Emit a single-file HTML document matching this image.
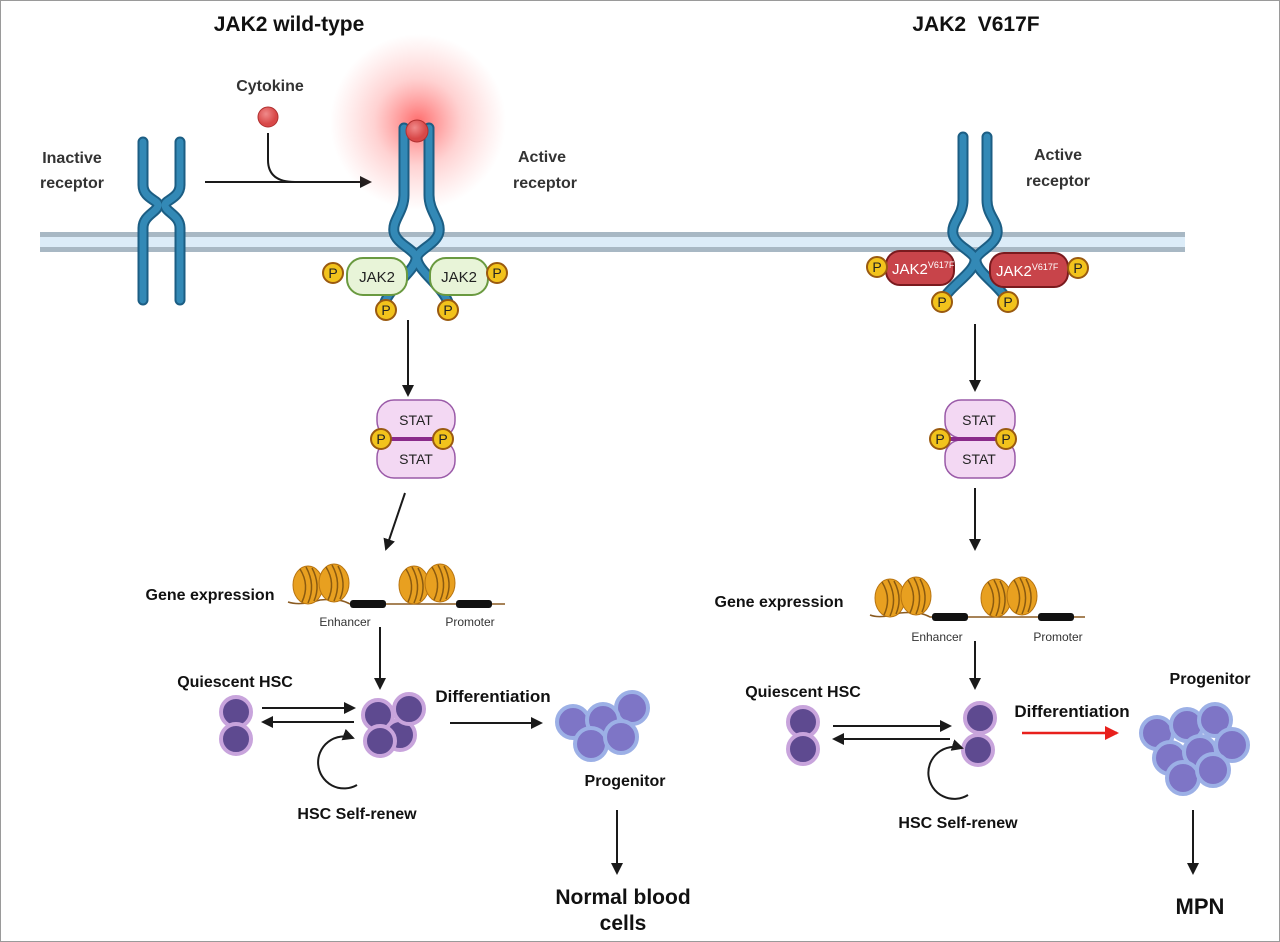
<!DOCTYPE html>
<html><head><meta charset="utf-8"><style>
html,body{margin:0;padding:0;background:#fff;}
svg{display:block;font-family:"Liberation Sans",Arial,sans-serif;}
</style></head><body>
<svg width="1280" height="942" viewBox="0 0 1280 942" xmlns="http://www.w3.org/2000/svg">
<defs>
<radialGradient id="glow"><stop offset="0" stop-color="#ff3b3b" stop-opacity="0.75"/><stop offset="0.5" stop-color="#ff6a6a" stop-opacity="0.3"/><stop offset="1" stop-color="#ff8080" stop-opacity="0"/></radialGradient>
<radialGradient id="ball" cx="0.4" cy="0.35"><stop offset="0" stop-color="#f08a8a"/><stop offset="1" stop-color="#d84848"/></radialGradient>
<marker id="ah" markerWidth="12" markerHeight="12" refX="10" refY="6" orient="auto" markerUnits="userSpaceOnUse"><path d="M0,0 L12,6 L0,12 z" fill="#1a1a1a"/></marker>
<marker id="ahr" markerWidth="14" markerHeight="14" refX="12" refY="7" orient="auto" markerUnits="userSpaceOnUse"><path d="M0,0 L14,7 L0,14 z" fill="#e8201c"/></marker>
<g id="nuc"><ellipse cx="0" cy="0" rx="15" ry="19" fill="#e8a020" stroke="#b87410" stroke-width="1"/><path d="M-8,-16 Q2,0 -6,17 M-2,-18 Q8,0 0,18 M4,-17 Q13,0 6,16" stroke="#8a5a10" stroke-width="1.5" fill="none"/></g>
<g id="P"><circle r="10" fill="#f2c31c" stroke="#9a5a10" stroke-width="2"/><text y="5" text-anchor="middle" font-size="14" fill="#222">P</text></g>
<g id="hsc"><circle r="15" fill="#5e4a90" stroke="#c8a4dc" stroke-width="4"/></g>
<g id="prog"><circle r="16" fill="#7e75c6" stroke="#9cb0e6" stroke-width="4"/></g>
</defs>
<rect x="0.5" y="0.5" width="1279" height="941" fill="#fff" stroke="#9a9a9a"/>

<text x="289" y="31" text-anchor="middle" font-size="21" font-weight="bold" fill="#111">JAK2 wild-type</text>
<text x="976" y="31" text-anchor="middle" font-size="21" font-weight="bold" fill="#111" xml:space="preserve">JAK2  V617F</text>

<rect x="40" y="232" width="1145" height="20" fill="#dcecf8"/>
<rect x="40" y="232" width="1145" height="5" fill="#a8b8c4"/>
<rect x="40" y="247" width="1145" height="5" fill="#a8b8c4"/>

<g fill="none" stroke-linecap="round">
<g stroke="#1c5e84" stroke-width="11">
<path d="M143,142 L143,185 C143,198 158,200 158,205 C158,212 143,215 143,228 L143,300"/>
<path d="M180,142 L180,185 C180,198 165,200 165,205 C165,212 180,215 180,228 L180,300"/>
</g>
<g stroke="#3389b6" stroke-width="7">
<path d="M143,142 L143,185 C143,198 158,200 158,205 C158,212 143,215 143,228 L143,300"/>
<path d="M180,142 L180,185 C180,198 165,200 165,205 C165,212 180,215 180,228 L180,300"/>
</g>
</g>
<text x="72" y="163" text-anchor="middle" font-size="16" font-weight="bold" fill="#333">Inactive</text>
<text x="72" y="188" text-anchor="middle" font-size="16" font-weight="bold" fill="#333">receptor</text>

<text x="270" y="91" text-anchor="middle" font-size="16" font-weight="bold" fill="#333">Cytokine</text>
<circle cx="268" cy="117" r="10" fill="url(#ball)" stroke="#b03030"/>
<line x1="205" y1="182" x2="370" y2="182" stroke="#1a1a1a" stroke-width="2" marker-end="url(#ah)"/>
<path d="M268,133 L268,160 Q268,182 295,182" fill="none" stroke="#1a1a1a" stroke-width="2"/>

<circle cx="418" cy="122" r="88" fill="url(#glow)"/>
<g fill="none" stroke-linecap="round">
<g stroke="#1c5e84" stroke-width="11">
<path d="M404,128 L404,195 C404,212 392,220 394,232 C396,244 416,250 416,258 C416,270 392,285 385,302"/>
<path d="M429,128 L429,195 C429,212 441,220 439,232 C437,244 417,250 417,258 C417,270 441,285 448,302"/>
</g>
<g stroke="#3389b6" stroke-width="7">
<path d="M404,128 L404,195 C404,212 392,220 394,232 C396,244 416,250 416,258 C416,270 392,285 385,302"/>
<path d="M429,128 L429,195 C429,212 441,220 439,232 C437,244 417,250 417,258 C417,270 441,285 448,302"/>
</g>
</g>
<circle cx="417" cy="131" r="11" fill="url(#ball)" stroke="#b03030"/>
<text x="542" y="162" text-anchor="middle" font-size="16" font-weight="bold" fill="#333">Active</text>
<text x="545" y="188" text-anchor="middle" font-size="16" font-weight="bold" fill="#333">receptor</text>
<rect x="347" y="258" width="60" height="37" rx="16" fill="#e8f4d8" stroke="#6a9a40" stroke-width="2"/>
<text x="377" y="282" text-anchor="middle" font-size="15" fill="#222">JAK2</text>
<rect x="430" y="258" width="58" height="37" rx="16" fill="#e8f4d8" stroke="#6a9a40" stroke-width="2"/>
<text x="459" y="282" text-anchor="middle" font-size="15" fill="#222">JAK2</text>
<use href="#P" x="333" y="273"/><use href="#P" x="497" y="273"/>
<use href="#P" x="386" y="310"/><use href="#P" x="448" y="310"/>

<line x1="408" y1="320" x2="408" y2="395" stroke="#1a1a1a" stroke-width="2" marker-end="url(#ah)"/>

<rect x="377" y="400" width="78" height="38" rx="17" fill="#f3d8f3" stroke="#9a5aa8" stroke-width="1.5"/>
<rect x="377" y="440" width="78" height="38" rx="17" fill="#f3d8f3" stroke="#9a5aa8" stroke-width="1.5"/>
<line x1="385" y1="439" x2="445" y2="439" stroke="#8a2a8a" stroke-width="4"/>
<text x="416" y="425" text-anchor="middle" font-size="14" fill="#222">STAT</text>
<text x="416" y="464" text-anchor="middle" font-size="14" fill="#222">STAT</text>
<use href="#P" x="381" y="439"/><use href="#P" x="443" y="439"/>

<line x1="405" y1="493" x2="386" y2="549" stroke="#1a1a1a" stroke-width="2" marker-end="url(#ah)"/>

<text x="210" y="600" text-anchor="middle" font-size="16" font-weight="bold" fill="#111">Gene expression</text>
<path d="M288,602 Q300,606 320,600 Q340,598 350,604 L505,604" fill="none" stroke="#8a5a20" stroke-width="1.5"/>
<use href="#nuc" x="308" y="585"/><use href="#nuc" x="334" y="583"/>
<use href="#nuc" x="414" y="585"/><use href="#nuc" x="440" y="583"/>
<rect x="350" y="600" width="36" height="8" rx="3" fill="#111"/>
<rect x="456" y="600" width="36" height="8" rx="3" fill="#111"/>
<text x="345" y="626" text-anchor="middle" font-size="12" fill="#333">Enhancer</text>
<text x="470" y="626" text-anchor="middle" font-size="12" fill="#333">Promoter</text>
<line x1="380" y1="627" x2="380" y2="688" stroke="#1a1a1a" stroke-width="2" marker-end="url(#ah)"/>

<text x="235" y="687" text-anchor="middle" font-size="16" font-weight="bold" fill="#111">Quiescent HSC</text>
<use href="#hsc" x="236" y="712"/><use href="#hsc" x="236" y="739"/>
<line x1="262" y1="708" x2="354" y2="708" stroke="#1a1a1a" stroke-width="2" marker-end="url(#ah)"/>
<line x1="354" y1="722" x2="263" y2="722" stroke="#1a1a1a" stroke-width="2" marker-end="url(#ah)"/>
<use href="#hsc" x="378" y="715"/><use href="#hsc" x="400" y="735"/><use href="#hsc" x="409" y="709"/><use href="#hsc" x="380" y="741"/>
<path d="M357,785 A26,26 0 1 1 353,738" fill="none" stroke="#1a1a1a" stroke-width="2" marker-end="url(#ah)"/>
<text x="357" y="819" text-anchor="middle" font-size="16" font-weight="bold" fill="#111">HSC Self-renew</text>
<text x="493" y="702" text-anchor="middle" font-size="17" font-weight="bold" fill="#111">Differentiation</text>
<line x1="450" y1="723" x2="541" y2="723" stroke="#1a1a1a" stroke-width="2" marker-end="url(#ah)"/>
<use href="#prog" x="573" y="722"/><use href="#prog" x="632" y="708"/><use href="#prog" x="603" y="720"/><use href="#prog" x="591" y="744"/><use href="#prog" x="621" y="737"/>
<text x="625" y="786" text-anchor="middle" font-size="16" font-weight="bold" fill="#111">Progenitor</text>
<line x1="617" y1="810" x2="617" y2="873" stroke="#1a1a1a" stroke-width="2" marker-end="url(#ah)"/>
<text x="623" y="904" text-anchor="middle" font-size="21" font-weight="bold" fill="#111">Normal blood</text>
<text x="623" y="930" text-anchor="middle" font-size="21" font-weight="bold" fill="#111">cells</text>

<g fill="none" stroke-linecap="round">
<g stroke="#1c5e84" stroke-width="11">
<path d="M963,137 L963,200 C963,216 951,222 953,234 C955,246 975,252 975,260 C975,272 950,286 943,300"/>
<path d="M987,137 L987,200 C987,216 999,222 997,234 C995,246 976,252 976,260 C976,272 1000,286 1007,300"/>
</g>
<g stroke="#3389b6" stroke-width="7">
<path d="M963,137 L963,200 C963,216 951,222 953,234 C955,246 975,252 975,260 C975,272 950,286 943,300"/>
<path d="M987,137 L987,200 C987,216 999,222 997,234 C995,246 976,252 976,260 C976,272 1000,286 1007,300"/>
</g>
</g>
<text x="1058" y="160" text-anchor="middle" font-size="16" font-weight="bold" fill="#333">Active</text>
<text x="1058" y="186" text-anchor="middle" font-size="16" font-weight="bold" fill="#333">receptor</text>
<rect x="886" y="251" width="68" height="34" rx="14" fill="#c8444a" stroke="#7a1a1e" stroke-width="2"/>
<text x="892" y="274" font-size="15" fill="#fff">JAK2<tspan font-size="9" dy="-6">V617F</tspan></text>
<rect x="990" y="253" width="78" height="34" rx="14" fill="#c8444a" stroke="#7a1a1e" stroke-width="2"/>
<text x="996" y="276" font-size="15" fill="#fff">JAK2<tspan font-size="9" dy="-6">V617F</tspan></text>
<use href="#P" x="877" y="267"/><use href="#P" x="1078" y="268"/>
<use href="#P" x="942" y="302"/><use href="#P" x="1008" y="302"/>
<line x1="975" y1="324" x2="975" y2="390" stroke="#1a1a1a" stroke-width="2" marker-end="url(#ah)"/>

<rect x="945" y="400" width="70" height="38" rx="16" fill="#f3d8f3" stroke="#9a5aa8" stroke-width="1.5"/>
<rect x="945" y="440" width="70" height="38" rx="16" fill="#f3d8f3" stroke="#9a5aa8" stroke-width="1.5"/>
<line x1="945" y1="439" x2="1005" y2="439" stroke="#8a2a8a" stroke-width="4"/>
<text x="979" y="425" text-anchor="middle" font-size="14" fill="#222">STAT</text>
<text x="979" y="464" text-anchor="middle" font-size="14" fill="#222">STAT</text>
<use href="#P" x="940" y="439"/><use href="#P" x="1006" y="439"/>
<line x1="975" y1="488" x2="975" y2="549" stroke="#1a1a1a" stroke-width="2" marker-end="url(#ah)"/>

<text x="779" y="607" text-anchor="middle" font-size="16" font-weight="bold" fill="#111">Gene expression</text>
<path d="M870,615 Q880,619 900,613 Q920,611 930,617 L1085,617" fill="none" stroke="#8a5a20" stroke-width="1.5"/>
<use href="#nuc" x="890" y="598"/><use href="#nuc" x="916" y="596"/>
<use href="#nuc" x="996" y="598"/><use href="#nuc" x="1022" y="596"/>
<rect x="932" y="613" width="36" height="8" rx="3" fill="#111"/>
<rect x="1038" y="613" width="36" height="8" rx="3" fill="#111"/>
<text x="937" y="641" text-anchor="middle" font-size="12" fill="#333">Enhancer</text>
<text x="1058" y="641" text-anchor="middle" font-size="12" fill="#333">Promoter</text>
<line x1="975" y1="641" x2="975" y2="688" stroke="#1a1a1a" stroke-width="2" marker-end="url(#ah)"/>

<text x="803" y="697" text-anchor="middle" font-size="16" font-weight="bold" fill="#111">Quiescent HSC</text>
<use href="#hsc" x="803" y="722"/><use href="#hsc" x="803" y="749"/>
<line x1="833" y1="726" x2="950" y2="726" stroke="#1a1a1a" stroke-width="2" marker-end="url(#ah)"/>
<line x1="950" y1="739" x2="834" y2="739" stroke="#1a1a1a" stroke-width="2" marker-end="url(#ah)"/>
<use href="#hsc" x="980" y="718"/><use href="#hsc" x="978" y="750"/>
<path d="M968,795 A26,26 0 1 1 962,748" fill="none" stroke="#1a1a1a" stroke-width="2" marker-end="url(#ah)"/>
<text x="958" y="828" text-anchor="middle" font-size="16" font-weight="bold" fill="#111">HSC Self-renew</text>
<text x="1072" y="717" text-anchor="middle" font-size="17" font-weight="bold" fill="#111">Differentiation</text>
<line x1="1022" y1="733" x2="1117" y2="733" stroke="#e8201c" stroke-width="2.5" marker-end="url(#ahr)"/>
<text x="1210" y="684" text-anchor="middle" font-size="16" font-weight="bold" fill="#111">Progenitor</text>
<use href="#prog" x="1157" y="733"/><use href="#prog" x="1187" y="725"/><use href="#prog" x="1215" y="720"/><use href="#prog" x="1232" y="745"/>
<use href="#prog" x="1170" y="758"/><use href="#prog" x="1200" y="752"/><use href="#prog" x="1183" y="778"/><use href="#prog" x="1213" y="770"/>
<line x1="1193" y1="810" x2="1193" y2="873" stroke="#1a1a1a" stroke-width="2" marker-end="url(#ah)"/>
<text x="1200" y="914" text-anchor="middle" font-size="22" font-weight="bold" fill="#111">MPN</text>
</svg>
</body></html>
